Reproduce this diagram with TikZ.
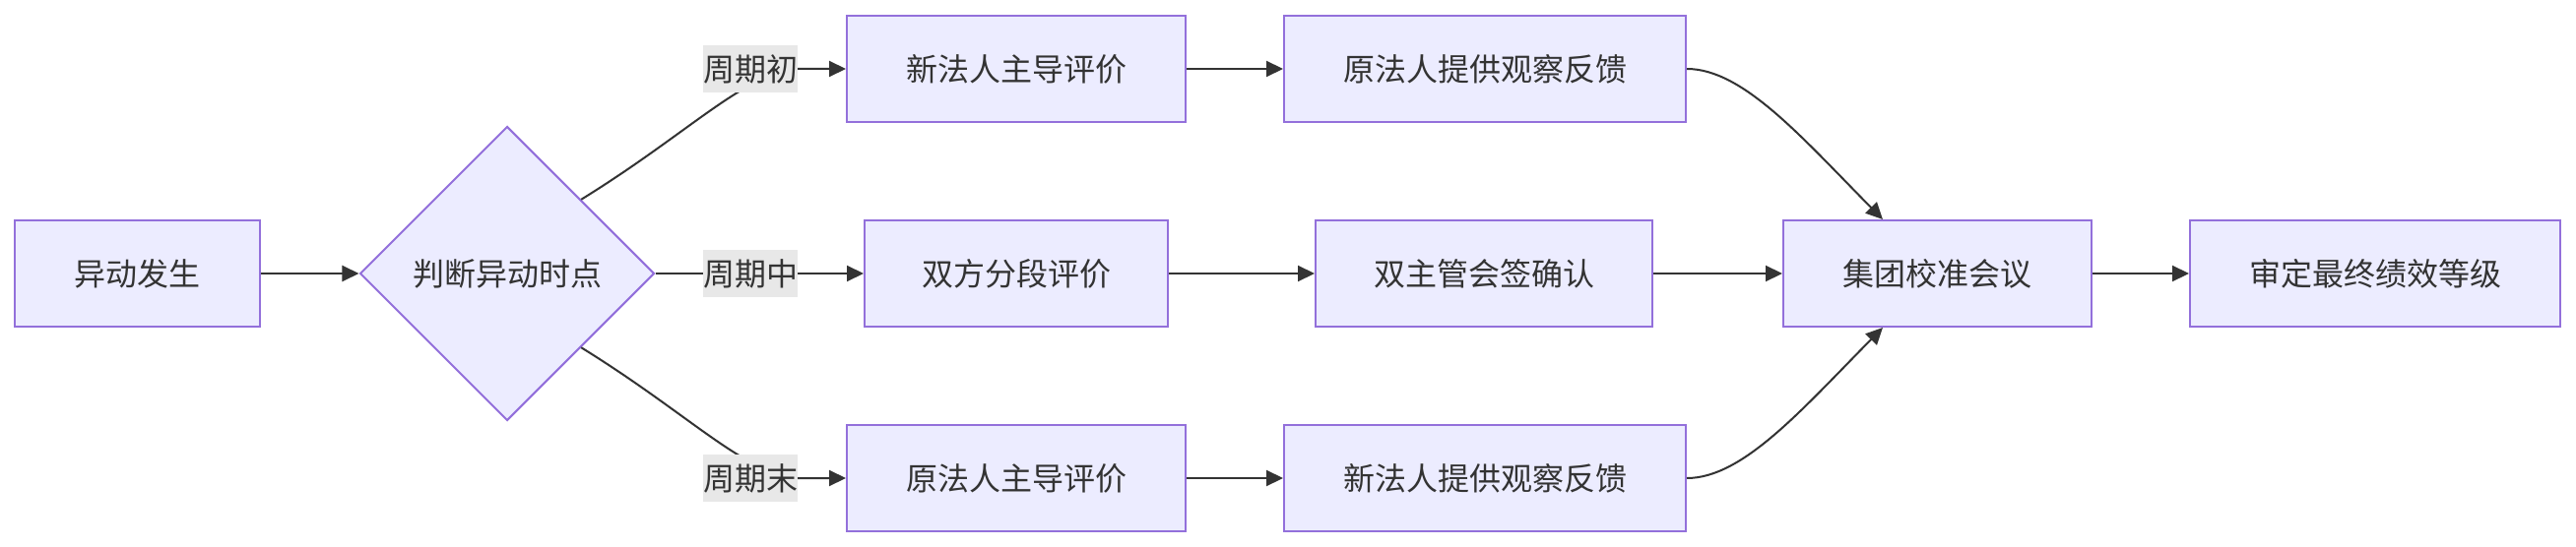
\documentclass[tikz,border=0pt]{standalone}
\usepackage{fontspec}
\setmainfont{Noto Sans CJK SC}
\usetikzlibrary{shapes.geometric,arrows.meta}
\definecolor{boxfill}{HTML}{ECECFF}
\definecolor{boxline}{HTML}{9370DB}
\definecolor{ink}{HTML}{333333}
\definecolor{lblbg}{HTML}{E8E8E8}
\begin{document}
\begin{tikzpicture}[x=0.5pt,y=-0.5pt,
  txt/.style={text=ink, font=\fontsize{16pt}{19pt}\selectfont},
  box/.style={txt, draw=boxline, fill=boxfill, line width=1pt, minimum height=54pt, inner sep=0pt},
  decision/.style={txt, diamond, aspect=1, draw=boxline, fill=boxfill, line width=1pt, minimum width=149.5pt, minimum height=149.5pt, inner sep=0pt},
  elabel/.style={txt, fill=lblbg, inner sep=0pt, minimum height=24pt, minimum width=47pt},
  flow/.style={draw=ink, line width=1pt, -{Triangle[length=8.5pt,width=8pt]}},
]
\useasboundingbox (0,0) rectangle (2616,556);
\fill[white] (0,0) rectangle (2616,556);
% nodes
\node[box, minimum width=124.5pt] (start) at (139.5,278) {异动发生};
\node[decision] (dec) at (515,278) {判断异动时点};
\node[box, minimum width=172pt] (t1) at (1032,70) {新法人主导评价};
\node[box, minimum width=204pt] (t2) at (1508,70) {原法人提供观察反馈};
\node[box, minimum width=154pt] (m1) at (1032,278) {双方分段评价};
\node[box, minimum width=171pt] (m2) at (1507,278) {双主管会签确认};
\node[box, minimum width=172pt] (b1) at (1032,486) {原法人主导评价};
\node[box, minimum width=204pt] (b2) at (1508,486) {新法人提供观察反馈};
\node[box, minimum width=156.5pt] (cal) at (1967.5,278) {集团校准会议};
\node[box, minimum width=188pt] (fin) at (2412,278) {审定最终绩效等级};
% connectors
\draw[flow] (start) -- (dec);
\draw[flow] (dec.north east) .. controls (700,135) and (755,75) .. (810,70) -- (t1.west);
\draw[flow] (dec) -- (m1);
\draw[flow] (dec.south east) .. controls (700,421) and (755,481) .. (810,486) -- (b1.west);
\draw[flow] (t1) -- (t2);
\draw[flow] (m1) -- (m2);
\draw[flow] (b1) -- (b2);
\draw[flow] (t2.east) .. controls (1770,70) and (1830,140) .. ([xshift=-27.75pt]cal.north);
\draw[flow] (m2) -- (cal);
\draw[flow] (b2.east) .. controls (1770,486) and (1830,416) .. ([xshift=-27.75pt]cal.south);
\draw[flow] (cal) -- (fin);
% edge labels
\node[elabel] (l1) at (762,70) {周期初};
\node[elabel] (l2) at (762,278) {周期中};
\node[elabel] (l3) at (762,486) {周期末};
\end{tikzpicture}
\end{document}
